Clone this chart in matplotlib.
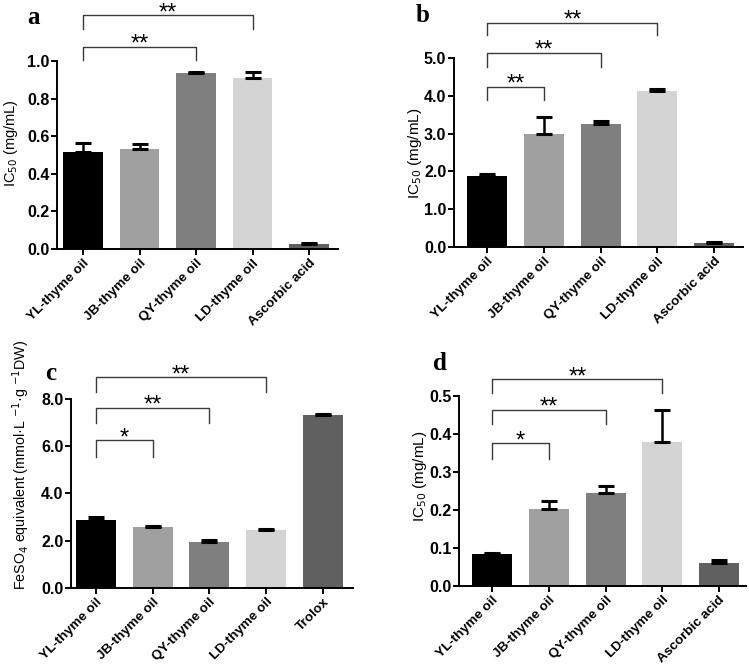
import numpy as np
import matplotlib
matplotlib.use("Agg")
import matplotlib.pyplot as plt

plt.rcParams['font.family'] = ['Liberation Sans', 'DejaVu Sans']

# categories
oils = ["YL-thyme oil", "JB-thyme oil", "QY-thyme oil", "LD-thyme oil"]
labels_abd = oils + ["Ascorbic acid"]
labels_c = oils + ["Trolox"]

# values (mean, upper error)
a_vals = [0.517, 0.534, 0.938, 0.912, 0.027]
a_err = [0.046, 0.023, 0.003, 0.031, 0.003]
b_vals = [1.89, 2.99, 3.245, 4.13, 0.115]
b_err = [0.04, 0.45, 0.095, 0.04, 0.01]
c_vals = [2.88, 2.57, 1.94, 2.43, 7.32]
c_err = [0.12, 0.06, 0.08, 0.04, 0.04]
d_vals = [0.083, 0.202, 0.244, 0.379, 0.060]
d_err = [0.004, 0.022, 0.020, 0.084, 0.008]

# significance brackets: (i, j, y, left drop, right drop, text)
a_sig = [(0, 2, 1.076, 1.005, 1.005, "**"), (0, 3, 1.245, 1.17, 1.17, "**")]
b_sig = [(0, 1, 4.24, 3.89, 3.89, "**"), (0, 2, 5.14, 4.77, 4.77, "**"),
         (0, 3, 5.93, 5.6, 5.6, "**")]
c_sig = [(0, 1, 6.25, 5.55, 5.55, "*"), (0, 2, 7.63, 7.0, 7.0, "**"),
         (0, 3, 8.92, 8.28, 8.28, "**")]
d_sig = [(0, 1, 0.377, 0.335, 0.335, "*"), (0, 2, 0.465, 0.427, 0.427, "**"),
         (0, 3, 0.546, 0.509, 0.509, "**")]

colors = ["#000000", "#a0a0a0", "#7f7f7f", "#d4d4d4", "#606060"]

fig = plt.figure(figsize=(7.49, 6.66), dpi=100)


def panel(rect, labels, vals, err, sig, ylim, ticks, ylabel, label_xy, label_size,
          xlim, letter, letter_xy):
    ax = fig.add_axes(rect)
    x = np.arange(len(vals))
    ax.bar(x, vals, width=0.705, color=colors, zorder=2)
    ax.errorbar(x, vals, yerr=[np.zeros(len(err)), err], fmt="none",
                ecolor="black", elinewidth=1.8, capsize=6, capthick=2.2, zorder=3)
    ax.set_xlim(*xlim)
    ax.set_ylim(*ylim)
    ax.set_yticks(ticks)
    ax.set_yticklabels(["%.1f" % t for t in ticks], fontsize=11.5, fontweight="bold")
    ax.set_xticks(x)
    ax.set_xticklabels(labels, rotation=45, ha="right", rotation_mode="anchor",
                       fontsize=9.7, fontweight="bold")
    for s in ["top", "right"]:
        ax.spines[s].set_visible(False)
    for s in ["left", "bottom"]:
        ax.spines[s].set_linewidth(1.4)
    ax.tick_params(axis="y", length=4, width=1.4, pad=1.5)
    ax.tick_params(axis="x", length=4, width=1.4, pad=2)
    ax.set_ylabel(ylabel, fontsize=label_size)
    ax.yaxis.set_label_coords(*label_xy)
    for i, j, y, d1, d2, t in sig:
        ax.plot([i, i, j, j], [d1, y, y, d2], color="#3a3a3a", lw=1.0,
                clip_on=False, zorder=4)
        ax.annotate(t, ((i + j) / 2, y), xytext=(0, -3), textcoords="offset points",
                    ha="center", va="baseline", fontsize=17,
                    annotation_clip=False)
    fig.text(letter_xy[0], letter_xy[1], letter, fontsize=18, fontweight="bold",
             family="Liberation Serif", ha="center", va="center")
    return ax


panel([0.0761, 0.6261, 0.375, 0.2823], labels_abd, a_vals, a_err, a_sig,
      (0, 1.0), [0.0, 0.2, 0.4, 0.6, 0.8, 1.0], "IC$_{50}$ (mg/mL)",
      (-0.13, 0.566), 10.5, (-0.46, 4.51), "a", (33 / 749, 1 - 17 / 666))
panel([0.6061, 0.6291, 0.3858, 0.2838], labels_abd, b_vals, b_err, b_sig,
      (0, 5.0), [0.0, 1.0, 2.0, 3.0, 4.0, 5.0], "IC$_{50}$ (mg/mL)",
      (-0.105, 0.495), 11, (-0.59, 4.51), "b", (423 / 749, 1 - 15 / 666))
panel([0.0948, 0.1176, 0.3765, 0.2833], labels_c, c_vals, c_err, c_sig,
      (0, 8.0), [0.0, 2.0, 4.0, 6.0, 8.0],
      "FeSO$_4$ equivalent (mmol·L $^{-1}$·g $^{-1}$DW)",
      (-0.138, 0.65), 10.3, (-0.44, 4.53), "c", (51 / 749, 1 - 373 / 666))
panel([0.6128, 0.1206, 0.3832, 0.2842], labels_abd, d_vals, d_err, d_sig,
      (0, 0.5), [0.0, 0.1, 0.2, 0.3, 0.4, 0.5], "IC$_{50}$ (mg/mL)",
      (-0.105, 0.577), 11, (-0.59, 4.48), "d", (440 / 749, 1 - 364 / 666))

fig.savefig("out.png", dpi=100)
